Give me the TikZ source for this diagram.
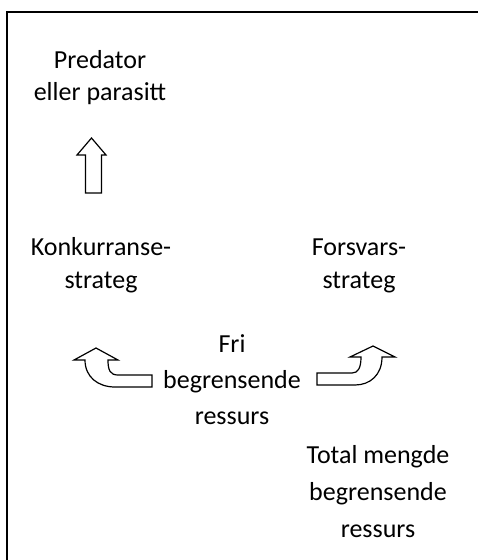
\documentclass[tikz,border=0pt]{standalone}
\usepackage{fontspec}
\setmainfont{Carlito}
\begin{document}
\begin{tikzpicture}[x=1pt,y=-1pt,
  lbl/.style={anchor=base,inner sep=0pt,font=\fontsize{26}{32}\selectfont},
  blockarrow/.style={draw=black,line width=1.2pt,fill=white,line join=miter}]
\useasboundingbox (0,0) rectangle (478,560);
% frame
\draw[line width=2.4pt] (480,12) -- (7,12) -- (7,562);
% labels
\node[lbl] (pred1) at (100,68) {Predator};
\node[lbl] (pred2) at (100,100) {eller parasitt};
\node[lbl] (konk1) at (101,255) {Konkurranse-};
\node[lbl] (konk2) at (101,288) {strateg};
\node[lbl] (fors1) at (359,255) {Forsvars-};
\node[lbl] (fors2) at (359,288) {strateg};
\node[lbl] (fri1) at (232,352) {Fri};
\node[lbl] (fri2) at (232,388) {begrensende};
\node[lbl] (fri3) at (232,424) {ressurs};
\node[lbl] (tot1) at (378,463) {Total mengde};
\node[lbl] (tot2) at (378,500) {begrensende};
\node[lbl] (tot3) at (378,537) {ressurs};
% up arrow
\draw[blockarrow] (91.5,138) -- (106,155) -- (101.5,155) -- (101.5,193) -- (85.5,193) -- (85.5,155) -- (77,155) -- cycle;
% left curved arrow
\draw[blockarrow] (96,348) -- (118,360) -- (108,360)
  .. controls (108,370) and (110,375) .. (118,375) -- (152,375) -- (152,387) -- (115,387)
  .. controls (98,387) and (85,377) .. (85,360) -- (74,360) -- cycle;
% right curved arrow
\draw[blockarrow] (373,346) -- (395,357) -- (382,357)
  .. controls (382,375) and (370,385) .. (355,385) -- (317,385) -- (317,373) -- (352,373)
  .. controls (358,373) and (361,368) .. (361,357) -- (350,357) -- cycle;
\end{tikzpicture}
\end{document}
